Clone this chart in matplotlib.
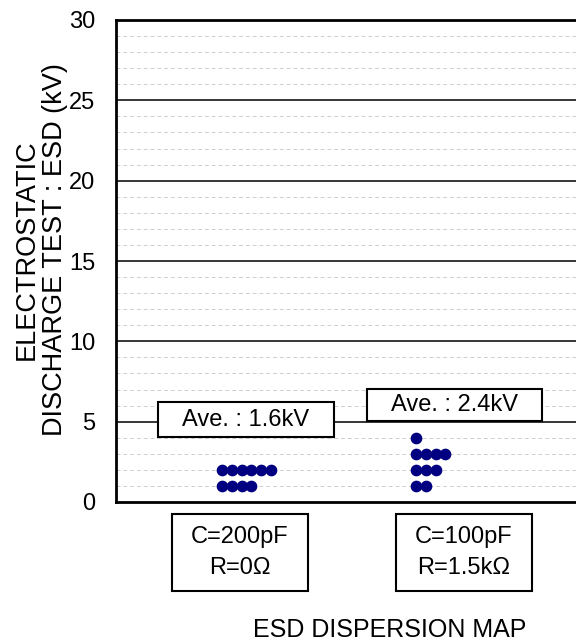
import matplotlib.pyplot as plt
from matplotlib.patches import Rectangle

plt.rcParams['font.family'] = ['Liberation Sans', 'DejaVu Sans']

# ESD levels (kV) and how many samples failed at each level
levels = [1, 2, 3, 4]
counts_200pF = [4, 6, 0, 0]
counts_100pF = [2, 3, 4, 1]
averages = ['Ave. : 1.6kV', 'Ave. : 2.4kV']
conditions = ['C=200pF\nR=0\u03a9', 'C=100pF\nR=1.5k\u03a9']
yticks = [0, 5, 10, 15, 20, 25, 30]

W, H = 576, 644
fig = plt.figure(figsize=(W / 100, H / 100), dpi=100)
ax = fig.add_axes([116 / W, (H - 502) / H, 470 / W, 482 / H])
ax.set_xlim(0, 47)
ax.set_ylim(0, 30)

# grid
for y in range(1, 30):
    if y % 5 == 0:
        ax.axhline(y, color='black', lw=1.1, zorder=1)
    else:
        ax.axhline(y, color='#cfcfcf', lw=0.7, ls=(0, (4, 3)), zorder=1)

# dots
for base, counts in [(10.6, counts_200pF), (30.0, counts_100pF)]:
    xs, ys = [], []
    for lv, n in zip(levels, counts):
        for i in range(n):
            xs.append(base + i * 0.98)
            ys.append(lv)
    ax.plot(xs, ys, 'o', color='#000080', ms=7.4, mec='#000080', zorder=3)

ax.set_yticks(yticks)
ax.set_xticks([])
ax.tick_params(axis='y', length=0, pad=15, labelsize=17)
for s in ['left', 'top', 'bottom']:
    ax.spines[s].set_linewidth(2)
ax.spines['right'].set_visible(False)

fig.text(40.5 / W, 1 - 250 / H, 'ELECTROSTATIC\nDISCHARGE TEST : ESD (kV)', rotation=90,
         ha='center', va='center', multialignment='center', fontsize=19.5,
         linespacing=1.12)


def box(x0, y0, x1, y1, text, fs=17):
    fig.add_artist(Rectangle((x0 / W, 1 - y1 / H), (x1 - x0) / W, (y1 - y0) / H,
                             transform=fig.transFigure, facecolor='white',
                             edgecolor='black', lw=1.5, zorder=5))
    fig.text((x0 + x1) / 2 / W, 1 - (y0 + y1) / 2 / H, text, ha='center',
             va='center', fontsize=fs, zorder=6, linespacing=1.5)


box(158, 402, 334, 437, averages[0])
box(367, 389, 542, 421, averages[1])
box(172, 514, 308, 591, conditions[0])
box(396, 514, 532, 591, conditions[1])

fig.text(390 / W, 1 - 630 / H, 'ESD DISPERSION MAP', ha='center', va='center',
         fontsize=18)

fig.savefig('out.png', dpi=100)
